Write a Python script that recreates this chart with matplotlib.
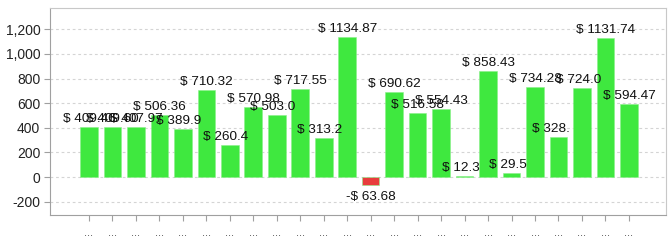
import matplotlib.pyplot as plt
from matplotlib.ticker import FuncFormatter

# values (truncated labels -> last digits guessed)
values = [409.46, 409.60, 407.97, 506.36, 389.92, 710.32, 260.45, 570.98,
          503.04, 717.55, 313.27, 1134.87, -63.68, 690.62, 516.58, 554.43,
          12.34, 858.43, 29.55, 734.28, 328.16, 724.06, 1131.74, 594.47]
# labels as they show up in the chart (some are cut off)
shown = ["$ 409.46", "$ 409.60", "$ 407.97", "$ 506.36", "$ 389.9", "$ 710.32",
         "$ 260.4", "$ 570.98", "$ 503.0", "$ 717.55", "$ 313.2", "$ 1134.87",
         "-$ 63.68", "$ 690.62", "$ 516.58", "$ 554.43", "$ 12.3", "$ 858.43",
         "$ 29.5", "$ 734.28", "$ 328.", "$ 724.0", "$ 1131.74", "$ 594.47"]
categories = ["..."] * len(values)
yticks = [-200, 0, 200, 400, 600, 800, 1000, 1200]

plt.rcParams['font.family'] = ['Liberation Sans', 'DejaVu Sans']

fig = plt.figure(figsize=(6.72, 2.41), dpi=100)
ax = fig.add_axes([50 / 672, 26 / 241, 616 / 672, 207 / 241])

x = list(range(len(values)))
colors = ['#3fe83f' if v >= 0 else '#e83c3c' for v in values]
ax.bar(x, values, width=0.75, color=colors, edgecolor='#8af08a', linewidth=0.4, zorder=2)

ax.set_xlim(-1.66, 24.58)
ax.set_ylim(-308, 1373)
ax.set_yticks(yticks)
ax.yaxis.set_major_formatter(FuncFormatter(lambda v, p: f"{int(v):,}"))
ax.set_xticks(x)
ax.set_xticklabels(categories)

ax.grid(axis='y', color='#d4d4d4', linestyle=(0, (2.5, 2.5)), linewidth=0.8, zorder=0)
for side in ['left', 'bottom']:
    ax.spines[side].set_color('#a0a0a0')
for side in ['top', 'right']:
    ax.spines[side].set_color('#c8c8c8')
ax.tick_params(axis='y', length=4, color='#a0a0a0', labelsize=10, pad=3, labelcolor='#222222')
ax.tick_params(axis='x', length=4, color='#a0a0a0', labelsize=8, pad=5, labelcolor='#444444')

texts = []
for i, v in enumerate(values):
    lab = f"$ {v:.2f}" if v >= 0 else f"-$ {abs(v):.2f}"
    off = 3.6 if v >= 0 else -10.6
    t = ax.annotate(lab, (i, v), xytext=(0, off), textcoords='offset points',
                    ha='center', va='baseline', fontsize=9.7, color='#111111', zorder=3)
    texts.append(t)

# cut-off labels keep the left edge of the full label
fig.canvas.draw()
r = fig.canvas.get_renderer()
for t, s in zip(texts, shown):
    if t.get_text() != s:
        bb = t.get_window_extent(r)
        dx = bb.x0 - ax.transData.transform((t.xy[0], 0))[0]
        t.set_text(s)
        t.set_ha('left')
        t.xyann = (t.xyann[0] + dx * 72 / fig.dpi, t.xyann[1])

fig.savefig('out.png', dpi=100)
